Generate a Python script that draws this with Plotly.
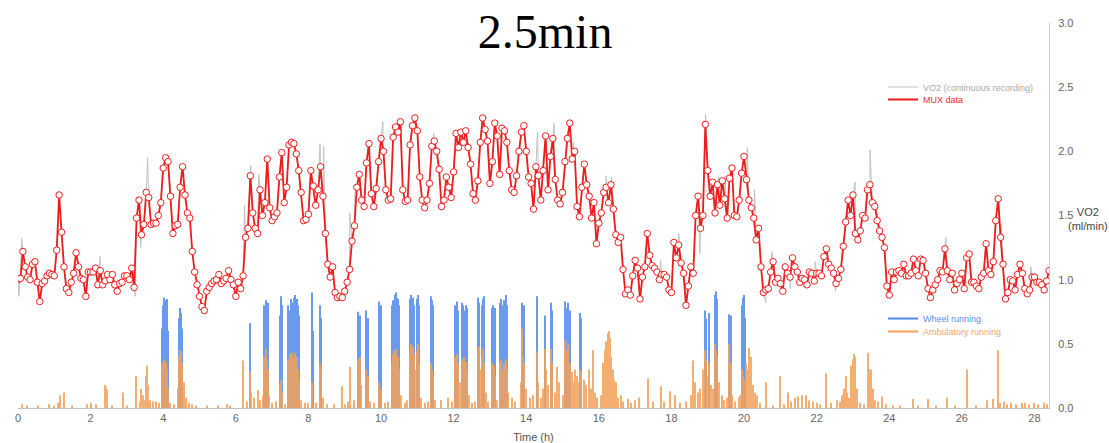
import plotly.graph_objects as go

# ---------------------------------------------------------------------------
# MUX VO2 samples (ml/min), one every 4 minutes, one row per hour
# ---------------------------------------------------------------------------
SAMPLE_MIN = 4
mux_vo2 = [
    1.00, 1.01, 1.22, 1.10, 1.02, 1.00, 1.12, 1.14, 0.98, 0.83, 0.97, 0.99, 1.03, 1.05, 1.04,  # 0 h
    1.03, 1.23, 1.66, 1.37, 1.10, 0.93, 0.90, 0.98, 1.05, 1.21, 1.10, 1.01, 1.00, 0.87, 1.06,  # 1 h
    1.06, 1.06, 1.09, 0.96, 1.07, 0.96, 0.99, 1.04, 1.00, 1.04, 0.96, 0.91, 0.97, 0.98, 1.03,  # 2 h
    1.03, 1.00, 1.09, 0.94, 1.48, 1.62, 1.35, 1.43, 1.68, 1.64, 1.43, 1.44, 1.44, 1.50, 1.60,  # 3 h
    1.87, 1.95, 1.92, 1.65, 1.36, 1.42, 1.43, 1.72, 1.88, 1.66, 1.52, 1.48, 1.22, 1.06, 0.96,  # 4 h
    0.87, 0.79, 0.76, 0.91, 0.94, 0.97, 0.99, 1.00, 1.04, 0.97, 0.99, 1.01, 1.07, 1.00, 0.96,  # 5 h
    0.87, 0.98, 0.93, 1.03, 1.33, 1.40, 1.81, 1.52, 1.40, 1.36, 1.70, 1.50, 1.60, 1.94, 1.56,  # 6 h
    1.46, 1.49, 1.52, 1.80, 1.99, 1.60, 1.72, 2.05, 2.07, 2.06, 1.98, 1.85, 1.68, 1.46, 1.47,  # 7 h
    1.51, 1.85, 1.73, 1.58, 1.70, 1.88, 1.65, 1.36, 1.12, 1.02, 1.10, 0.90, 0.86, 0.87, 0.86,  # 8 h
    0.91, 0.98, 1.08, 1.30, 1.42, 1.72, 1.82, 1.62, 1.57, 1.91, 2.06, 1.67, 1.57, 1.71, 1.92,  # 9 h
    2.10, 2.00, 1.70, 1.62, 1.63, 2.11, 2.19, 2.15, 2.23, 1.70, 1.61, 1.62, 2.05, 2.20, 2.26,  # 10 h
    2.16, 1.80, 1.62, 1.56, 1.62, 1.75, 2.04, 2.08, 2.00, 1.86, 1.57, 1.62, 1.80, 1.72, 1.64,  # 11 h
    1.84, 2.14, 2.03, 2.15, 2.07, 2.16, 2.03, 1.90, 1.67, 1.62, 1.77, 2.07, 2.26, 2.17, 2.08,  # 12 h
    1.75, 1.92, 2.22, 2.12, 1.82, 2.18, 2.16, 2.07, 1.85, 1.70, 1.68, 1.81, 2.00, 2.15, 2.20,  # 13 h
    2.00, 1.80, 1.75, 1.55, 1.88, 1.81, 1.62, 1.85, 2.12, 1.70, 1.96, 2.10, 1.78, 1.62, 1.59,  # 14 h
    1.68, 1.92, 2.10, 2.22, 1.94, 2.00, 1.57, 1.49, 1.72, 1.90, 1.74, 1.65, 1.48, 1.60, 1.28,  # 15 h
    1.44, 1.52, 1.68, 1.72, 1.60, 1.74, 1.55, 1.35, 1.29, 1.33, 1.08, 0.89, 0.92, 0.88, 1.03,  # 16 h
    1.15, 1.09, 0.85, 1.02, 1.10, 1.36, 1.19, 1.11, 1.09, 1.06, 1.00, 1.04, 1.04, 1.02, 0.92,  # 17 h
    0.90, 1.29, 1.17, 1.27, 1.13, 1.05, 0.80, 0.95, 1.10, 1.05, 1.50, 1.65, 1.40, 1.50, 2.21,  # 18 h
    1.85, 1.65, 1.76, 1.52, 1.74, 1.58, 1.77, 1.63, 1.48, 1.79, 1.87, 1.50, 1.49, 1.62, 1.83,  # 19 h
    1.96, 1.78, 1.62, 1.56, 1.48, 1.31, 1.40, 1.10, 0.90, 0.92, 0.93, 1.06, 1.14, 0.98, 1.01,  # 20 h
    0.97, 0.91, 1.10, 1.05, 1.02, 1.17, 1.10, 1.06, 0.98, 1.01, 1.00, 0.96, 1.06, 1.05, 0.99,  # 21 h
    1.05, 1.05, 1.03, 1.18, 1.24, 1.12, 1.09, 1.05, 0.97, 1.01, 1.08, 1.26, 1.45, 1.62, 1.50,  # 22 h
    1.66, 1.36, 1.31, 1.38, 1.50, 1.48, 1.70, 1.74, 1.60, 1.57, 1.46, 1.38, 1.33, 1.25, 0.95,  # 23 h
    0.88, 1.06, 1.00, 1.06, 1.07, 1.05, 1.12, 1.03, 1.03, 1.05, 1.16, 1.07, 1.03, 1.16, 1.15,  # 24 h
    1.05, 0.93, 0.86, 0.92, 0.96, 1.00, 1.07, 1.06, 1.24, 1.07, 1.00, 1.05, 0.92, 0.97, 1.00,  # 25 h
    1.05, 0.93, 1.17, 1.20, 0.98, 0.98, 0.95, 0.93, 1.02, 1.05, 1.28, 1.07, 1.04, 1.14, 1.46,  # 26 h
    1.63, 1.33, 1.12, 0.85, 0.90, 1.00, 0.99, 0.92, 1.04, 1.12, 1.05, 0.93, 0.89, 0.92, 1.02,  # 27 h
    1.02, 0.98, 0.98, 0.96, 0.92, 0.99, 1.07,                                                  # 28 h
]
mux_time = [i * SAMPLE_MIN / 60 for i in range(len(mux_vo2))]

# Extra excursions of the continuous VO2 recording between MUX samples
cont_time = [0.02, 0.10, 2.26, 3.23, 3.38, 3.57, 6.24, 6.41, 6.63, 8.32, 8.42, 9.14,
             9.28, 10.05, 11.45, 14.31, 14.77, 15.30, 16.20, 16.35, 17.70, 18.20, 18.78,
             18.94, 19.30, 19.47, 20.09, 20.29, 20.60, 20.77, 21.27, 21.96, 22.52, 23.06,
             23.47, 23.65, 25.56, 27.08, 27.90]
cont_vo2 = [0.87, 1.32, 1.18, 0.87, 1.25, 1.95, 1.58, 1.89, 1.82, 2.06, 2.04, 1.52,
            1.67, 2.23, 2.14, 2.15, 2.22, 2.07, 1.81, 1.80, 1.15, 1.36, 1.20,
            2.29, 1.80, 1.81, 2.03, 1.70, 0.82, 1.22, 0.93, 1.14, 0.91, 1.76,
            2.01, 1.61, 1.33, 1.43, 1.10]

# ---------------------------------------------------------------------------
# Activity (wheel running / ambulatory running)
# ---------------------------------------------------------------------------
wheel_time = [3.96, 3.99, 4.02, 4.05, 4.08, 4.11, 4.14,
              4.44, 4.47, 4.50, 4.53,
              6.38,
              6.79, 6.82, 6.85, 6.88,
              7.22, 7.25, 7.28,
              7.45, 7.48, 7.51, 7.54, 7.57, 7.60, 7.63, 7.66, 7.69, 7.72, 7.75,
              8.11, 8.14, 8.32, 8.35,
              9.38, 9.42, 9.60, 9.63, 9.95, 9.99,
              10.29, 10.32, 10.35, 10.38, 10.41, 10.44, 10.47, 10.50,
              10.80, 10.83, 10.86, 10.89, 10.92, 10.98, 11.01, 11.04,
              11.37, 11.40, 11.43,
              12.04, 12.07, 12.10, 12.13, 12.22, 12.25, 12.28, 12.34, 12.37,
              12.68, 12.71, 12.77, 12.80, 12.83,
              13.05, 13.08, 13.11, 13.15,
              13.28, 13.31, 13.34, 13.40, 13.43, 13.46,
              13.88, 13.91, 13.95,
              14.29, 14.52, 14.68, 14.71,
              15.07, 15.10, 15.16, 15.20, 15.48, 15.52,
              18.93, 18.96, 19.03, 19.20, 19.23, 19.26,
              19.60, 19.63, 19.94, 19.97, 20.00, 20.03]
wheel_level = [0.62, 0.80, 0.86, 0.84, 0.72, 0.85, 0.60,
               0.70, 0.78, 0.74, 0.62,
               0.66,
               0.80, 0.84, 0.78, 0.82,
               0.72, 0.87, 0.80,
               0.80, 0.76, 0.85, 0.82, 0.78, 0.86, 0.88, 0.82, 0.85, 0.80, 0.72,
               0.90, 0.60, 0.80, 0.70,
               0.75, 0.72, 0.76, 0.70, 0.83, 0.80,
               0.80, 0.84, 0.82, 0.88, 0.90, 0.86, 0.85, 0.80,
               0.85, 0.88, 0.82, 0.86, 0.80, 0.85, 0.88, 0.80,
               0.87, 0.84, 0.80,
               0.80, 0.78, 0.83, 0.76, 0.82, 0.80, 0.76, 0.80, 0.78,
               0.86, 0.82, 0.80, 0.85, 0.87,
               0.78, 0.80, 0.76, 0.78,
               0.82, 0.85, 0.80, 0.84, 0.88, 0.80,
               0.82, 0.76, 0.80,
               0.87, 0.72, 0.82, 0.76,
               0.83, 0.78, 0.82, 0.76, 0.74, 0.70,
               0.76, 0.70, 0.74, 0.88, 0.91, 0.85,
               0.73, 0.72, 0.80, 0.86, 0.88, 0.70]

amb_time = [0.10, 0.25, 0.55, 0.85, 1.00, 1.10, 1.16, 1.27, 1.50, 1.90, 2.00, 2.15, 2.40, 2.43,
            2.46, 2.60, 2.90, 3.00, 3.24, 3.35, 3.40, 3.44, 3.48, 3.52, 3.55, 3.58, 3.65, 3.72,
            3.80, 3.88, 3.96, 3.99, 4.02, 4.05, 4.08, 4.11, 4.14, 4.20, 4.30, 4.40, 4.44, 4.47,
            4.50, 4.53, 4.57, 4.62, 4.70, 4.80, 4.90, 5.20, 5.50, 5.75, 5.85, 6.19, 6.30, 6.38,
            6.42, 6.50, 6.60, 6.68, 6.76, 6.79, 6.82, 6.85, 6.88, 6.92, 7.00, 7.10, 7.22, 7.25,
            7.28, 7.35, 7.45, 7.48, 7.51, 7.54, 7.57, 7.60, 7.63, 7.66, 7.69, 7.72, 7.75, 7.80,
            7.90, 8.00, 8.11, 8.20, 8.32, 8.35, 8.40, 8.50, 8.70, 8.92, 9.00, 9.10, 9.16, 9.25,
            9.38, 9.42, 9.46, 9.60, 9.63, 9.70, 9.80, 9.95, 9.99, 10.10, 10.20, 10.29, 10.32,
            10.35, 10.38, 10.41, 10.44, 10.47, 10.50, 10.55, 10.65, 10.72, 10.80, 10.83, 10.86,
            10.89, 10.92, 10.95, 10.98, 11.01, 11.04, 11.10, 11.20, 11.30, 11.37, 11.40, 11.43,
            11.50, 11.65, 11.85, 11.95, 12.04, 12.07, 12.10, 12.13, 12.17, 12.22, 12.25, 12.28,
            12.31, 12.34, 12.37, 12.42, 12.50, 12.60, 12.68, 12.71, 12.74, 12.77, 12.80, 12.83,
            12.88, 12.95, 13.05, 13.08, 13.11, 13.15, 13.20, 13.28, 13.31, 13.34, 13.37, 13.40,
            13.43, 13.46, 13.50, 13.60, 13.70, 13.85, 13.88, 13.91, 13.95, 14.00, 14.10, 14.20,
            14.29, 14.33, 14.40, 14.45, 14.52, 14.55, 14.60, 14.68, 14.71, 14.78, 14.85, 14.90,
            15.00, 15.07, 15.10, 15.13, 15.16, 15.20, 15.25, 15.30, 15.35, 15.40, 15.45, 15.48,
            15.52, 15.58, 15.65, 15.72, 15.78, 15.85, 15.90, 15.95, 16.05, 16.12, 16.16, 16.20,
            16.24, 16.27, 16.30, 16.34, 16.38, 16.42, 16.47, 16.52, 16.60, 16.68, 16.80, 16.90,
            17.00, 17.12, 17.36, 17.50, 17.70, 17.80, 17.95, 18.10, 18.25, 18.40, 18.55, 18.60,
            18.66, 18.72, 18.80, 18.88, 18.93, 18.96, 19.00, 19.03, 19.08, 19.14, 19.20, 19.23,
            19.26, 19.30, 19.38, 19.45, 19.52, 19.60, 19.63, 19.68, 19.75, 19.85, 19.90, 19.94,
            19.97, 20.00, 20.03, 20.06, 20.10, 20.13, 20.16, 20.20, 20.25, 20.30, 20.35, 20.45,
            20.61, 20.80, 20.99, 21.10, 21.22, 21.30, 21.40, 21.50, 21.60, 21.70, 21.78, 21.90,
            22.00, 22.10, 22.26, 22.40, 22.55, 22.64, 22.70, 22.76, 22.80, 22.85, 22.90, 22.96,
            23.00, 23.03, 23.06, 23.10, 23.20, 23.30, 23.42, 23.45, 23.48, 23.50, 23.55, 23.62,
            23.70, 23.79, 23.90, 24.10, 24.30, 24.65, 24.80, 25.06, 25.30, 25.60, 25.80, 26.14,
            26.40, 26.70, 26.85, 27.00, 27.06, 27.15, 27.25, 27.35, 27.50, 27.65, 27.75, 27.85,
            28.00, 28.10, 28.25, 28.35]
amb_level = [0.03, 0.02, 0.02, 0.03, 0.02, 0.04, 0.10, 0.12, 0.02, 0.03, 0.04, 0.03, 0.18, 0.16,
             0.14, 0.02, 0.12, 0.02, 0.25, 0.05, 0.15, 0.10, 0.06, 0.25, 0.33, 0.18, 0.06, 0.05,
             0.05, 0.04, 0.35, 0.30, 0.38, 0.25, 0.36, 0.30, 0.15, 0.04, 0.03, 0.15, 0.40, 0.45,
             0.44, 0.35, 0.20, 0.08, 0.04, 0.03, 0.02, 0.02, 0.02, 0.03, 0.02, 0.37, 0.05, 0.28,
             0.12, 0.08, 0.14, 0.06, 0.10, 0.40, 0.46, 0.38, 0.30, 0.10, 0.04, 0.05, 0.18, 0.22,
             0.12, 0.03, 0.38, 0.42, 0.35, 0.43, 0.40, 0.38, 0.43, 0.36, 0.40, 0.30, 0.22, 0.06,
             0.04, 0.04, 0.20, 0.04, 0.35, 0.30, 0.08, 0.03, 0.03, 0.17, 0.03, 0.05, 0.32, 0.06,
             0.38, 0.40, 0.18, 0.30, 0.25, 0.05, 0.04, 0.20, 0.15, 0.04, 0.05, 0.35, 0.42,
             0.45, 0.40, 0.46, 0.38, 0.40, 0.30, 0.10, 0.04, 0.06, 0.45, 0.50, 0.40,
             0.48, 0.42, 0.30, 0.45, 0.50, 0.35, 0.08, 0.04, 0.05, 0.35, 0.30, 0.25,
             0.06, 0.06, 0.08, 0.05, 0.40, 0.30, 0.42, 0.35, 0.20, 0.38, 0.30, 0.40,
             0.25, 0.36, 0.30, 0.10, 0.04, 0.05, 0.45, 0.48, 0.30, 0.40, 0.46, 0.35,
             0.12, 0.05, 0.35, 0.30, 0.33, 0.25, 0.06, 0.36, 0.38, 0.30, 0.20, 0.35,
             0.38, 0.30, 0.12, 0.08, 0.05, 0.20, 0.62, 0.40, 0.35, 0.15, 0.08, 0.10,
             0.44, 0.20, 0.08, 0.15, 0.46, 0.30, 0.18, 0.46, 0.35, 0.12, 0.32, 0.20,
             0.10, 0.53, 0.45, 0.30, 0.50, 0.35, 0.28, 0.20, 0.30, 0.25, 0.20, 0.30,
             0.28, 0.22, 0.18, 0.30, 0.15, 0.45, 0.12, 0.08, 0.10, 0.35, 0.45, 0.52,
             0.58, 0.60, 0.55, 0.40, 0.30, 0.22, 0.20, 0.08, 0.10, 0.05, 0.07, 0.04,
             0.06, 0.08, 0.23, 0.05, 0.17, 0.05, 0.13, 0.10, 0.04, 0.05, 0.10, 0.37,
             0.20, 0.12, 0.15, 0.30, 0.45, 0.38, 0.25, 0.35, 0.18, 0.15, 0.50, 0.45,
             0.40, 0.20, 0.10, 0.06, 0.08, 0.50, 0.35, 0.10, 0.05, 0.08, 0.10, 0.30,
             0.25, 0.22, 0.18, 0.35, 0.30, 0.47, 0.25, 0.40, 0.18, 0.12, 0.10, 0.04,
             0.20, 0.02, 0.25, 0.03, 0.12, 0.05, 0.08, 0.09, 0.10, 0.10, 0.06, 0.05,
             0.04, 0.03, 0.27, 0.04, 0.06, 0.05, 0.10, 0.15, 0.25, 0.12, 0.08, 0.33,
             0.38, 0.42, 0.40, 0.15, 0.04, 0.03, 0.43, 0.30, 0.25, 0.30, 0.15, 0.06,
             0.05, 0.09, 0.03, 0.02, 0.02, 0.07, 0.02, 0.07, 0.02, 0.08, 0.02, 0.30,
             0.02, 0.06, 0.07, 0.45, 0.04, 0.05, 0.03, 0.04, 0.03, 0.04, 0.04, 0.03,
             0.04, 0.03, 0.04, 0.03]

x_ticks = list(range(0, 29, 2))
y_ticks = [0.0, 0.5, 1.0, 1.5, 2.0, 2.5, 3.0]

RED = "#ee1c1c"
GREY = "#c2c2c2"
BLUE = "#5089ec"
ORANGE = "#f4a05a"
SANS = "Liberation Sans, Arial, sans-serif"

# continuous trace = MUX samples plus the in-between excursions, in time order
cont_points = sorted(zip(mux_time + cont_time, mux_vo2 + cont_vo2))
cont_x = [p[0] for p in cont_points]
cont_y = [p[1] for p in cont_points]

fig = go.Figure()

fig.add_trace(go.Bar(x=wheel_time, y=wheel_level, width=0.03, opacity=0.85,
                     marker=dict(color=BLUE, line=dict(width=0)),
                     showlegend=False, hoverinfo="skip"))
fig.add_trace(go.Bar(x=amb_time, y=amb_level, width=0.03, opacity=0.85,
                     marker=dict(color=ORANGE, line=dict(width=0)),
                     showlegend=False, hoverinfo="skip"))

fig.add_trace(go.Scatter(x=cont_x, y=cont_y, mode="lines",
                         line=dict(color=GREY, width=1), showlegend=False,
                         hoverinfo="skip"))
fig.add_trace(go.Scatter(x=mux_time, y=mux_vo2, mode="lines+markers",
                         line=dict(color=RED, width=1.8),
                         marker=dict(size=6.5, color="white", line=dict(color=RED, width=1)),
                         showlegend=False))

# legend keys, one small legend box per series
legend_keys = [
    ("legend", GREY, 1.2, "#a9a9a9", "VO2 (continuous recording)"),
    ("legend2", RED, 2, "#ee2a2a", "MUX data"),
    ("legend3", BLUE, 2, "#5b8cec", "Wheel running"),
    ("legend4", ORANGE, 2, "#f2a566", "Ambulatory running"),
]
for legend_id, line_color, line_w, text_color, label in legend_keys:
    fig.add_trace(go.Scatter(x=[None], y=[None], mode="lines",
                             line=dict(color=line_color, width=line_w),
                             name=f'<span style="color:{text_color}">{label}</span>',
                             legend=legend_id))

legend_style = dict(xanchor="left", yanchor="top", bgcolor="rgba(0,0,0,0)",
                    font=dict(family=SANS, size=9, color="#999"), itemwidth=30)

fig.update_layout(
    width=1109, height=443,
    margin=dict(l=18, r=60, t=23, b=35),
    paper_bgcolor="white", plot_bgcolor="white",
    barmode="overlay",
    showlegend=True,
    legend=dict(x=0.839, y=0.8714, **legend_style),
    legend2=dict(x=0.839, y=0.8390, **legend_style),
    legend3=dict(x=0.839, y=0.2701, **legend_style),
    legend4=dict(x=0.839, y=0.2364, **legend_style),
    title=dict(text="2.5min", x=0.4915, xref="container", xanchor="center",
               y=0.93, yref="container", yanchor="middle",
               font=dict(family="Liberation Serif, Times New Roman, serif", size=48,
                         color="black")),
    xaxis=dict(range=[0, 28.4], tickvals=x_ticks, ticktext=[str(t) for t in x_ticks],
               showgrid=False, zeroline=False, showline=True, linecolor="#b9c9c1",
               linewidth=1, ticks="", automargin=False,
               tickfont=dict(family=SANS, size=11, color="#666"),
               title=dict(text="Time (h)", font=dict(family=SANS, size=11, color="#555"))),
    yaxis=dict(range=[0, 3], side="right", tickvals=y_ticks,
               ticktext=[f"{v:.1f}" for v in y_ticks],
               showgrid=False, zeroline=False, showline=True, linecolor="#cccccc",
               linewidth=1, ticks="", ticklabelstandoff=6, automargin=False,
               tickfont=dict(family=SANS, size=11, color="#666")),
    annotations=[dict(text="VO2<br>(ml/min)", xref="paper", yref="y", x=1.0378, y=1.47,
                      showarrow=False, xanchor="center", yanchor="middle", align="center",
                      font=dict(family=SANS, size=11, color="#444"))],
)

fig.write_html("out.html")
